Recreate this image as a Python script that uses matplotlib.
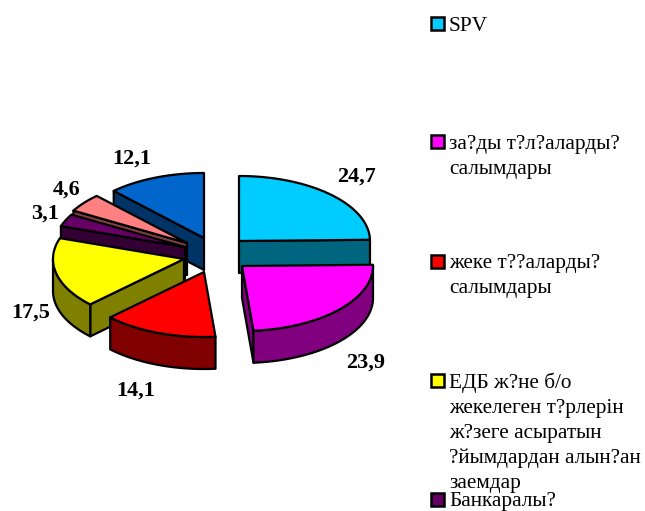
import numpy as np
import matplotlib
matplotlib.use("Agg")
import matplotlib.pyplot as plt
from matplotlib.patches import Polygon, Rectangle

values = [24.7, 23.9, 14.1, 17.5, 3.1, 4.6, 12.1]
value_labels = ["24,7", "23,9", "14,1", "17,5", "3,1", "4,6", "12,1"]
legend_labels = [
    "SPV",
    "за?ды т?л?аларды?\nсалымдары",
    "жеке т??аларды?\nсалымдары",
    "ЕДБ ж?не б/о\nжекелеген т?рлерін\nж?зеге асыратын\n?йымдардан алын?ан\nзаемдар",
    "Банкаралы?",
]
top_colors = ["#00CCFF", "#FF00FF", "#FF0000", "#FFFF00", "#660066", "#FF8080", "#0066CC"]
side_colors = ["#006680", "#800080", "#800000", "#808000", "#330033", "#804040", "#003366"]
legend_colors = top_colors[:5]

apexes = [(239, 241), (242, 266), (204, 272), (184, 259), (185, 247), (187, 243), (204, 238)]
label_pos = [(337, 182), (346, 368), (116, 396), (11, 318), (31, 219), (53, 195), (112, 164)]
legend_marker_y = [17, 135, 255, 374, 493]
legend_first_baseline = [31, 149, 268, 388, 506]
draw_order = [6, 5, 4, 3, 2, 0, 1]

RX, RY, DEPTH = 131, 65, 32
LW = 1.6

fig = plt.figure(figsize=(6.45, 5.11), dpi=100)
ax = fig.add_axes([0, 0, 1, 1])
ax.set_xlim(0, 645)
ax.set_ylim(511, 0)
ax.axis("off")

serif = "Liberation Serif"
edges = np.concatenate([[0], np.cumsum(values)]) / sum(values) * 2 * np.pi


def arc(cx, cy, a0, a1, dy=0.0):
    t = np.linspace(a0, a1, 80)
    return np.column_stack([cx + RX * np.sin(t), cy - RY * np.cos(t) + dy])


def add_poly(pts, color, z):
    ax.add_patch(Polygon(pts, closed=True, facecolor=color, edgecolor="black",
                         linewidth=LW, joinstyle="round", zorder=z))


for order, i in enumerate(draw_order):
    cx, cy = apexes[i]
    a0, a1 = edges[i], edges[i + 1]
    base = 10 * (order + 1)
    top_arc = arc(cx, cy, a0, a1)
    apex = np.array([[cx, cy]])
    apex_low = apex + [0, DEPTH]
    # radial walls: only those that face the viewer
    for k, (a, visible) in enumerate(((a0, np.sin(a0) < 0), (a1, np.sin(a1) > 0))):
        if visible:
            rim = arc(cx, cy, a, a, 0)[:1]
            add_poly(np.vstack([apex, rim, rim + [0, DEPTH], apex_low]), side_colors[i], base + k)
    # outer rim, only the part facing the viewer
    lo, hi = max(a0, np.pi / 2), min(a1, 3 * np.pi / 2)
    if hi > lo:
        rim = arc(cx, cy, lo, hi)
        add_poly(np.vstack([rim, (rim + [0, DEPTH])[::-1]]), side_colors[i], base + 3)
    add_poly(np.vstack([apex, top_arc]), top_colors[i], base + 4)

for text, (x, y) in zip(value_labels, label_pos):
    ax.text(x, y, text, family=serif, fontsize=16, fontweight="bold",
            ha="left", va="baseline", color="black", zorder=200)

for text, color, my, by in zip(legend_labels, legend_colors, legend_marker_y, legend_first_baseline):
    ax.add_patch(Rectangle((431, my), 13, 13, facecolor=color, edgecolor="black",
                           linewidth=1.8, zorder=200))
    for n, line in enumerate(text.split("\n")):
        ax.text(449, by + n * 25.1, line, family=serif, fontsize=15.3,
                ha="left", va="baseline", color="black", zorder=200)

fig.savefig("out.png", dpi=100, facecolor="white")
